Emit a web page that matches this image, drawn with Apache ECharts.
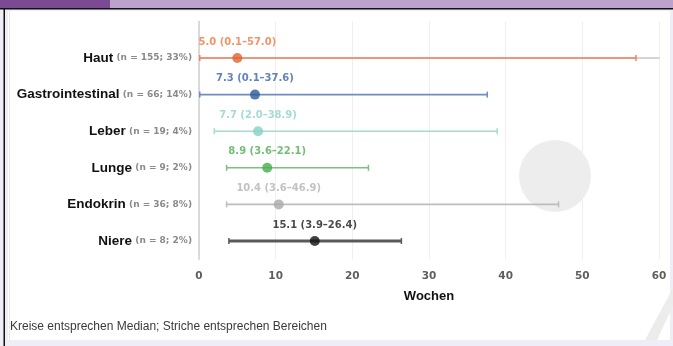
<!DOCTYPE html>
<html>
<head>
<meta charset="utf-8">
<script src="https://cdn.jsdelivr.net/npm/echarts@6/dist/echarts.min.js"></script>
<style>
  html, body { margin: 0; padding: 0; background: #efedf5; }
  #chart { width: 673px; height: 346px; }
</style>
</head>
<body>
<div id="chart"></div>
<script>
// Organ systems, top to bottom
const categories = ['Haut', 'Gastrointestinal', 'Leber', 'Lunge', 'Endokrin', 'Niere'];
const counts = [155, 66, 19, 9, 36, 8];
const shares = [33, 14, 4, 2, 8, 2];
// Time to onset in weeks: median and range
const medians = [5.0, 7.3, 7.7, 8.9, 10.4, 15.1];
const lows = [0.1, 0.1, 2.0, 3.6, 3.6, 3.9];
const highs = [57.0, 37.6, 38.9, 22.1, 46.9, 26.4];
const xTicks = [0, 10, 20, 30, 40, 50, 60];

// Per-row colours
const dotColors = ['#e2612f', '#2b5b9c', '#86cfc5', '#47ad4f', '#a9a9a9', '#111111'];
const lineColors = ['#ee8263', '#6f8cc4', '#a3dbd3', '#78c47b', '#bdbdbd', '#5a5a5a'];
const textColors = ['#ec7a45', '#3a64ad', '#8fd2c9', '#4fae55', '#b3b3b3', '#1a1a1a'];

const fmt = v => v.toFixed(1);

const rangeData = categories.map((c, i) => [lows[i], highs[i], i]);
const medianData = categories.map((c, i) => ({
  value: [medians[i], i],
  itemStyle: { color: dotColors[i] },
  label: { color: textColors[i] }
}));

const chart = echarts.init(document.getElementById('chart'), null, { renderer: 'canvas' });

chart.setOption({
  backgroundColor: '#efedf5',
  animation: false,
  graphic: [
    { type: 'rect', z: -20, shape: { x: 0, y: 0, width: 110, height: 8 }, style: { fill: '#7b4a93' } },
    { type: 'rect', z: -20, shape: { x: 110, y: 0, width: 563, height: 8 }, style: { fill: '#bca3cc' } },
    { type: 'rect', z: -20, shape: { x: 0, y: 8, width: 673, height: 1.5 }, style: { fill: '#111' } },
    { type: 'rect', z: -20, shape: { x: 3.5, y: 8, width: 1.5, height: 338 }, style: { fill: '#111' } },
    { type: 'rect', z: -20, shape: { x: 8, y: 11, width: 662, height: 329 }, style: { fill: '#ffffff' } },
    { type: 'rect', z: -19, shape: { x: 9, y: 11, width: 1, height: 329 }, style: { fill: '#dfe9f5' } },
    { type: 'circle', z: -18, shape: { cx: 555, cy: 176, r: 36 }, style: { fill: '#ededed' } },
    { type: 'polygon', z: -18, shape: { points: [[645, 340], [657, 340], [673, 306], [673, 288]] }, style: { fill: '#ececec' } },
    {
      type: 'text', z: 10, left: 10, top: 321,
      style: {
        text: 'Kreise entsprechen Median; Striche entsprechen Bereichen',
        fill: '#3a3a3a',
        font: '12px "Liberation Sans", Arial, sans-serif'
      }
    }
  ],
  grid: { left: 199, right: 14, top: 21.4, bottom: 86.7 },
  xAxis: {
    type: 'value',
    min: xTicks[0],
    max: xTicks[xTicks.length - 1],
    interval: 10,
    name: 'Wochen',
    nameLocation: 'middle',
    nameGap: 31,
    nameTextStyle: { color: '#111', fontWeight: 'bold', fontSize: 13, fontFamily: 'Liberation Sans, Arial, sans-serif' },
    axisLine: { show: true, lineStyle: { color: '#d4d4d4', width: 2 } },
    axisTick: { show: false },
    axisLabel: {
      margin: 11,
      color: '#5e5e5e',
      fontWeight: 'bold',
      fontSize: 10.5,
      fontFamily: 'DejaVu Sans, sans-serif',
      formatter: v => (xTicks.includes(v) ? String(v) : '')
    },
    splitLine: { show: true, lineStyle: { color: '#efefef', width: 1 } }
  },
  yAxis: {
    type: 'value',
    inverse: true,
    min: -1,
    max: 5.5,
    interval: 1,
    axisLine: { show: true, lineStyle: { color: '#d0d0d0', width: 1.5 } },
    axisTick: { show: false },
    splitLine: { show: false },
    axisLabel: {
      margin: 7,
      formatter: v => (Number.isInteger(v) && categories[v] !== undefined)
        ? '{name|' + categories[v] + '} {n|(n = ' + counts[v] + '; ' + shares[v] + '%)}'
        : '',
      rich: {
        name: { fontSize: 13.5, fontWeight: 'bold', color: '#111', fontFamily: 'Liberation Sans, Arial, sans-serif' },
        n: { fontSize: 9, fontWeight: 'bold', color: '#8a8a8a', fontFamily: 'DejaVu Sans, sans-serif' }
      }
    }
  },
  series: [
    {
      type: 'custom',
      data: rangeData,
      encode: { x: [0, 1], y: 2 },
      z: 3,
      renderItem: (params, api) => {
        const i = api.value(2);
        const a = api.coord([api.value(0), i]);
        const b = api.coord([api.value(1), i]);
        const w = i === 5 ? 3 : 1.6;
        const color = lineColors[i];
        const cap = 3;
        return {
          type: 'group',
          children: [
            { type: 'line', shape: { x1: a[0], y1: a[1], x2: b[0], y2: b[1] }, style: { stroke: color, lineWidth: w } },
            { type: 'line', shape: { x1: a[0], y1: a[1] - cap, x2: a[0], y2: a[1] + cap }, style: { stroke: color, lineWidth: 1.5 } },
            { type: 'line', shape: { x1: b[0], y1: b[1] - cap, x2: b[0], y2: b[1] + cap }, style: { stroke: color, lineWidth: 1.5 } }
          ]
        };
      }
    },
    {
      type: 'scatter',
      data: medianData,
      z: 5,
      symbol: 'circle',
      symbolSize: 10,
      label: {
        show: true,
        position: 'top',
        distance: 6,
        fontSize: 10,
        fontWeight: 'bold',
        fontFamily: 'DejaVu Sans, sans-serif',
        formatter: p => {
          const i = p.dataIndex;
          return fmt(medians[i]) + ' (' + fmt(lows[i]) + '\u2013' + fmt(highs[i]) + ')';
        }
      }
    }
  ]
});
</script>
</body>
</html>
